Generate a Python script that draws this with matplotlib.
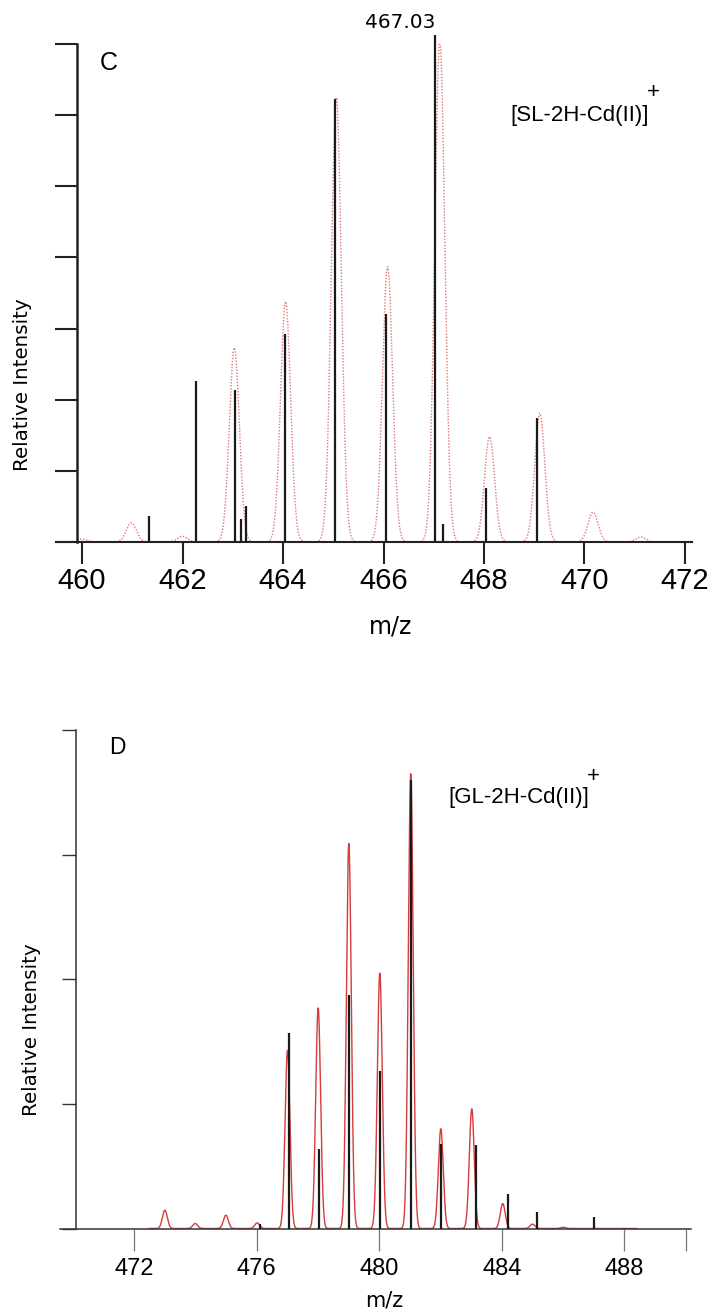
import numpy as np
import matplotlib
matplotlib.use('Agg')
import matplotlib.pyplot as plt

# panel C - measured sticks (black) and simulated isotope pattern (red dotted)
c_stick_mz = [461.33, 462.27, 463.04, 463.17, 463.27, 464.04, 465.04, 466.04,
              467.03, 467.18, 468.04, 469.05]
c_stick_int = [0.37, 2.26, 2.13, 0.32, 0.51, 2.92, 6.23, 3.20, 7.13, 0.25, 0.76, 1.74]
c_sim_mz = [460.0, 460.98, 462.0, 463.03, 464.05, 465.06, 466.08, 467.12,
            468.11, 469.11, 470.17, 471.12]
c_sim_int = [0.04, 0.27, 0.08, 2.73, 3.38, 6.25, 3.87, 7.04, 1.48, 1.81, 0.42, 0.07]
c_xticks = [460, 462, 464, 466, 468, 470, 472]

# panel D
d_stick_mz = [476.1, 477.06, 478.03, 479.02, 480.03, 481.05, 482.0, 483.15,
              484.19, 485.14, 487.0]
d_stick_int = [0.04, 1.57, 0.64, 1.87, 1.26, 3.60, 0.68, 0.67, 0.28, 0.13, 0.09]
d_sim_mz = [473.01, 474.0, 475.0, 476.02, 477.01, 478.01, 479.01, 480.02,
            481.03, 482.01, 483.02, 484.03, 485.0, 486.0]
d_sim_int = [0.147, 0.04, 0.107, 0.045, 1.43, 1.77, 3.09, 2.05, 3.65, 0.80,
             0.96, 0.20, 0.035, 0.01]
d_xticks = [472, 476, 480, 484, 488, 490]
d_xticklabels = ['472', '476', '480', '484', '488', '']

LAB = 'Liberation Sans'
W, H = 713, 1314


def px(x, y):
    return x / W, 1 - y / H


def profile(centers, heights, lo, hi, sigma):
    grid = np.linspace(lo, hi, 4000)
    y = np.zeros_like(grid)
    for c, h in zip(centers, heights):
        y += h * np.exp(-0.5 * ((grid - c) / sigma) ** 2)
    return grid, y


fig = plt.figure(figsize=(W / 100, H / 100), dpi=100)

# ---------------- panel C ----------------
l, b = px(56, 542)
r, t = px(692, 44)
axc = fig.add_axes([l, b, r - l, t - b])
gx, gy = profile(c_sim_mz, c_sim_int, 459.9, 471.4, 0.1)
axc.plot(gx, gy, color='#e07878', lw=1.0, linestyle=(0, (1, 1.2)), zorder=2)
axc.vlines(c_stick_mz, 0, c_stick_int, color='#1a1a1a', lw=1.6, zorder=3, clip_on=False)
axc.set_xlim(459.48, 472.14)
axc.set_ylim(0, 7)
axc.spines['top'].set_visible(False)
axc.spines['right'].set_visible(False)
axc.spines['left'].set_position(('data', 459.9))
axc.spines['left'].set_linewidth(1.8)
axc.spines['bottom'].set_linewidth(1.5)
axc.spines['left'].set_color('#222222')
axc.spines['bottom'].set_color('#222222')
axc.set_yticks(range(0, 8))
axc.set_yticklabels([])
axc.set_xticks(c_xticks)
axc.tick_params(axis='y', direction='out', length=16, width=1.5, color='#222222')
axc.tick_params(axis='x', direction='out', length=16, width=1.5, color='#222222',
                pad=2, labelsize=21, labelfontfamily=LAB)
axc.annotate('467.03', xy=(467.03, 7.13), xytext=(0, 2), textcoords='offset points',
             ha='right', va='bottom', fontsize=14.5, family='DejaVu Sans',
             annotation_clip=False)

fig.text(*px(109, 63), 'C', ha='center', va='center', fontsize=18, family=LAB)
fig.text(*px(510, 115), '[SL-2H-Cd(II)]', ha='left', va='center', fontsize=16, family=LAB)
fig.text(*px(653, 93), '+', ha='center', va='center', fontsize=16, family=LAB)
fig.text(*px(391, 626), 'm/z', ha='center', va='center', fontsize=17, family='DejaVu Sans')
fig.text(*px(23, 385), 'Relative Intensity', ha='center', va='center', rotation=90,
         fontsize=14.3, family='DejaVu Sans')

# ---------------- panel D ----------------
l, b = px(60, 1228.5)
r, t = px(691, 730)
axd = fig.add_axes([l, b, r - l, t - b])
gx, gy = profile(d_sim_mz, d_sim_int, 472.5, 488.4, 0.08)
axd.plot(gx, gy, color='#d63c3c', lw=1.0, zorder=2)
axd.vlines(d_stick_mz, 0, d_stick_int, color='#1a1a1a', lw=1.6, zorder=3)
axd.set_xlim(469.59, 490.17)
axd.set_ylim(0, 4)
axd.spines['top'].set_visible(False)
axd.spines['right'].set_visible(False)
axd.spines['left'].set_position(('data', 470.1))
for s in ('left', 'bottom'):
    axd.spines[s].set_linewidth(1.1)
    axd.spines[s].set_color('#333333')
axd.set_yticks(range(0, 5))
axd.set_yticklabels([])
axd.set_xticks(d_xticks)
axd.set_xticklabels(d_xticklabels)
axd.tick_params(axis='y', direction='out', length=10, width=1.0, color='#333333')
axd.tick_params(axis='x', direction='out', length=16, width=0.9, color='#777777',
                pad=5, labelsize=17, labelfontfamily=LAB)

fig.text(*px(117, 747), 'D', ha='center', va='center', fontsize=16.5, family=LAB)
fig.text(*px(448, 798), '[GL-2H-Cd(II)]', ha='left', va='center', fontsize=16, family=LAB)
fig.text(*px(593, 776), '+', ha='center', va='center', fontsize=16, family=LAB)
fig.text(*px(384, 1300), 'm/z', ha='center', va='center', fontsize=15, family='DejaVu Sans')
fig.text(*px(32, 1030), 'Relative Intensity', ha='center', va='center', rotation=90,
         fontsize=14.3, family='DejaVu Sans')

fig.savefig('out.png', dpi=100)
